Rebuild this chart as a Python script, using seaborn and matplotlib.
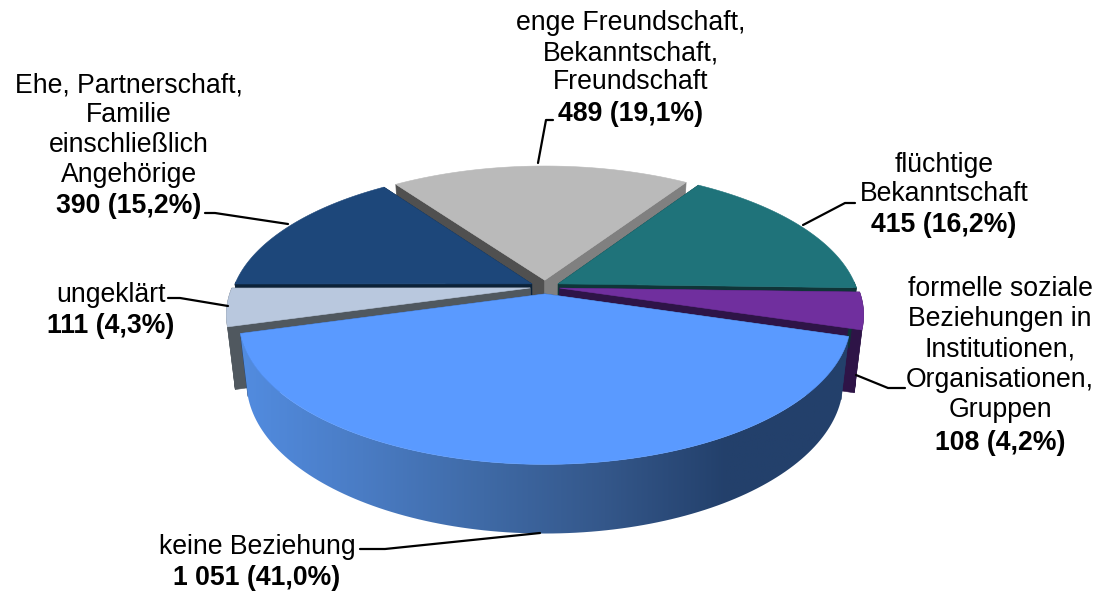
import numpy as np
import matplotlib
matplotlib.use("Agg")
import matplotlib.pyplot as plt
from matplotlib.patches import Polygon
import seaborn as sns

# categories clockwise, starting with the slice at the back
counts = [489, 415, 108, 1051, 111, 390]
count_text = ["489", "415", "108", "1 051", "111", "390"]
percent_text = ["19,1", "16,2", "4,2", "41,0", "4,3", "15,2"]
names = [
    ["enge Freundschaft,", "Bekanntschaft,", "Freundschaft"],
    ["flüchtige", "Bekanntschaft"],
    ["formelle soziale", "Beziehungen in", "Institutionen,", "Organisationen,", "Gruppen"],
    ["keine Beziehung"],
    ["ungeklärt"],
    ["Ehe, Partnerschaft,", "Familie", "einschließlich", "Angehörige"],
]
top_colors = ["#bababa", "#1f737a", "#702f9e", "#5a9aff", "#b9c8de", "#1d477a"]
wall_colors = ["#505050", "#0f3538", "#2e1447", "#23406b", "#50585f", "#0c2238"]
right_wall = "#808080"

# text and leader placement, in pixels
label_x = [631, 944, 1000, 257, 111, 129]
label_y = [[23, 53, 82, 114], [165, 194, 225], [289, 319, 349, 380, 410, 443],
           [547, 578], [295, 326], [85, 115, 145, 175, 206]]
leaders = [
    ([538, 546, 553], [163, 120, 120]),
    ([803, 845, 855], [225, 203, 203]),
    ([856, 888, 905], [375, 388, 388]),
    ([540, 385, 360], [533, 549, 549]),
    ([228, 180, 168], [306, 298, 298]),
    ([288, 215, 205], [224, 213, 213]),
]

cx, cy = 545, 287
rx, ry, depth = 298, 137, 62
explode = 0.05
start = 125.3


def proj(x, y, z=0.0):
    # simple perspective, far side smaller, lower face slightly smaller
    s = 1 / (1 + 0.18 * y + 0.024 * z)
    return cx + rx * x * s, cy - (ry * y - depth * z) * s


def rim(angles, ox, oy, z=0.0):
    a = np.radians(angles)
    return proj(ox + np.cos(a), oy + np.sin(a), z)


def quad(ax, xs, ys, color, z):
    ax.fill(xs, ys, color=color, lw=0.4, zorder=z)


sns.set_theme(style="white")
plt.rcParams["font.family"] = ["Liberation Sans", "DejaVu Sans"]
fig, ax = plt.subplots(figsize=(11.01, 5.97), dpi=100)
fig.subplots_adjust(0, 0, 1, 1)
ax.axis("off")

sweeps = np.array(counts) / sum(counts) * 360
ends = start - np.cumsum(sweeps)
starts = ends + sweeps
draw_z = [1, 2, 2, 4, 3, 2]

for i in range(len(counts)):
    a0, a1 = starts[i], ends[i]
    mid = np.radians((a0 + a1) / 2)
    ox, oy = explode * np.cos(mid), explode * np.sin(mid)
    z = draw_z[i] * 10
    angles = np.linspace(a0, a1, 120)
    tx, ty = rim(angles, ox, oy)
    bx, by = rim(angles, ox, oy, 1)
    ax0, ay0 = proj(ox, oy)
    ax1, ay1 = proj(ox, oy, 1)

    # radial walls
    first_wall = wall_colors[i]
    last_wall = right_wall if i == 0 else wall_colors[i]
    quad(ax, [ax0, tx[0], bx[0], ax1], [ay0, ty[0], by[0], ay1], first_wall, z)
    quad(ax, [ax0, tx[-1], bx[-1], ax1], [ay0, ty[-1], by[-1], ay1], last_wall, z)

    # outer side, only the part facing the camera
    front = np.sin(np.radians(angles)) < 0.02
    if i == 3:
        # big slice gets a gradient, light on the left, dark on the right
        cmap = sns.blend_palette(["#528ce0", "#4a7cc4", "#3f6aa6", "#34578a", "#23406b", "#23406b"], as_cmap=True)
        side = Polygon(np.c_[np.r_[tx, bx[::-1]], np.r_[ty, by[::-1]]], closed=True, fc="none", ec="none", zorder=z + 1)
        ax.add_patch(side)
        im = ax.imshow(np.linspace(0, 1, 256)[None, :], cmap=cmap, aspect="auto", zorder=z + 1,
                       extent=[min(tx.min(), bx.min()), max(tx.max(), bx.max()), by.max(), ty.min()])
        im.set_clip_path(side)
    elif front.sum() > 1:
        quad(ax, np.r_[tx[front], bx[front][::-1]], np.r_[ty[front], by[front][::-1]], wall_colors[i], z + 1)

    # top face
    quad(ax, np.r_[ax0, tx], np.r_[ay0, ty], top_colors[i], z + 2)

for i in range(len(counts)):
    ax.plot(leaders[i][0], leaders[i][1], color="black", lw=1.6, zorder=60, solid_capstyle="round")
    for line, y in zip(names[i], label_y[i]):
        ax.text(label_x[i], y, line, ha="center", va="center", fontsize=19.2, color="black", zorder=70)
    ax.text(label_x[i], label_y[i][-1], f"{count_text[i]} ({percent_text[i]}%)", ha="center", va="center",
            fontsize=19.2, fontweight="bold", color="black", zorder=70)

ax.set_xlim(0, 1101)
ax.set_ylim(597, 0)
fig.savefig("out.png", dpi=100)
